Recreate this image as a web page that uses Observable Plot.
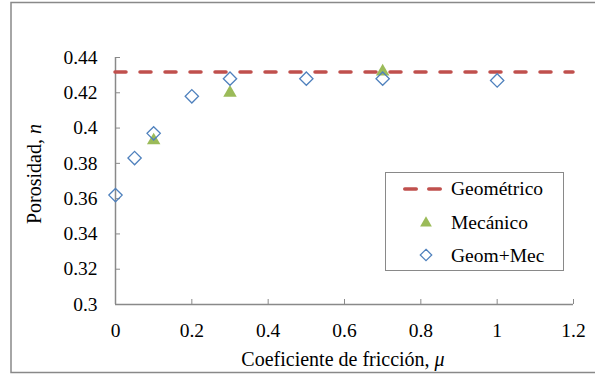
<!DOCTYPE html>
<html><head><meta charset="utf-8">
<script src="https://cdn.jsdelivr.net/npm/d3@7"></script>
<script src="https://cdn.jsdelivr.net/npm/@observablehq/plot@0.6"></script>
<style>body{margin:0;background:#fff}</style>
</head><body><div id="chart"></div>
<script>
// ---- data ----
const seriesNames = ["Geométrico", "Mecánico", "Geom+Mec"];
const xTicks = [0, 0.2, 0.4, 0.6, 0.8, 1, 1.2];
const yTicks = [0.3, 0.32, 0.34, 0.36, 0.38, 0.4, 0.42, 0.44];
const geomLevel = [0.4318];
const mecMu = [0.1, 0.3, 0.7];
const mecN = [0.393, 0.420, 0.432];
const gmMu = [0, 0.05, 0.1, 0.2, 0.3, 0.5, 0.7, 1.0];
const gmN = [0.362, 0.383, 0.397, 0.418, 0.428, 0.428, 0.428, 0.427];

const gray = "#898989";
const red = "#C0504D", green = "#9BBB59", blue = "#4F81BD";
const font = "'Liberation Serif','Times New Roman',serif";

const mec = mecMu.map((x, i) => ({x, y: mecN[i]}));
const gm = gmMu.map((x, i) => ({x, y: gmN[i]}));

const plot = Plot.plot({
  width: 595, height: 375,
  marginLeft: 115, marginRight: 22, marginTop: 57, marginBottom: 71,
  style: {fontFamily: font, fontSize: "19.5px", color: "#000", background: "#fff", overflow: "visible"},
  x: {domain: [0, 1.2], label: null},
  y: {domain: [0.3, 0.44], label: null},
  marks: [
    Plot.ruleX([0], {stroke: gray, strokeWidth: 1.5}),
    Plot.ruleY([0.3], {stroke: gray, strokeWidth: 1.5}),
    Plot.axisY({ticks: yTicks, tickSize: 5, dx: 5, tickPadding: 18, tickFormat: d3.format("~g"),
      stroke: gray, fill: "#000", label: null}),
    Plot.axisX({ticks: xTicks, tickSize: 5, dy: -5, tickPadding: 19, tickFormat: d3.format("~g"),
      stroke: gray, fill: "#000", label: null}),
    Plot.ruleY(geomLevel, {stroke: red, strokeWidth: 3.5, strokeDasharray: "11,14", strokeLinecap: "round"}),
    Plot.dot(mec, {x: "x", y: "y", symbol: d3.symbolTriangle, r: 5, fill: green, stroke: "none"}),
    Plot.dot(gm, {x: "x", y: "y", symbol: d3.symbolDiamond2, r: 6, fill: "none", stroke: blue, strokeWidth: 1.3})
  ]
});

const svg = d3.select(plot);
// outer chart border
svg.insert("rect", ":first-child")
  .attr("x", 11).attr("y", 2.5).attr("width", 600).attr("height", 370)
  .attr("fill", "#fff").attr("stroke", gray).attr("stroke-width", 1.5);

// axis titles
const yt = svg.append("text")
  .attr("transform", "translate(41,174) rotate(-90)")
  .attr("text-anchor", "middle").attr("fill", "#000").style("font-size", "20px");
yt.append("tspan").text("Porosidad, ");
yt.append("tspan").attr("font-style", "italic").text("n");

const xt = svg.append("text")
  .attr("x", 343).attr("y", 366)
  .attr("text-anchor", "middle").attr("fill", "#000").style("font-size", "20px");
xt.append("tspan").text("Coeficiente de fricción, ");
xt.append("tspan").attr("font-style", "italic").text("μ");

// legend
const lg = svg.append("g").attr("text-anchor", "start");
lg.append("rect").attr("x", 385.5).attr("y", 172.5).attr("width", 178).attr("height", 98)
  .attr("fill", "#fff").attr("stroke", gray).attr("stroke-width", 1);
lg.append("line").attr("x1", 404.75).attr("x2", 440.25).attr("y1", 189).attr("y2", 189)
  .attr("stroke", red).attr("stroke-width", 3.5).attr("stroke-linecap", "round")
  .attr("stroke-dasharray", "11.5,12.5");
lg.append("path").attr("transform", "translate(426,223)")
  .attr("d", d3.symbol(d3.symbolTriangle, 60)()).attr("fill", green);
lg.append("path").attr("transform", "translate(426,255)")
  .attr("d", d3.symbol(d3.symbolDiamond2, 85)()).attr("fill", "none")
  .attr("stroke", blue).attr("stroke-width", 1.2);
const baselines = [195, 228.5, 261.5];
seriesNames.forEach((name, i) => {
  lg.append("text").attr("x", 451).attr("y", baselines[i]).attr("fill", "#000")
    .attr("text-anchor", "start").style("font-size", "19.5px").text(name);
});

document.getElementById("chart").appendChild(plot);
</script>
</body></html>
